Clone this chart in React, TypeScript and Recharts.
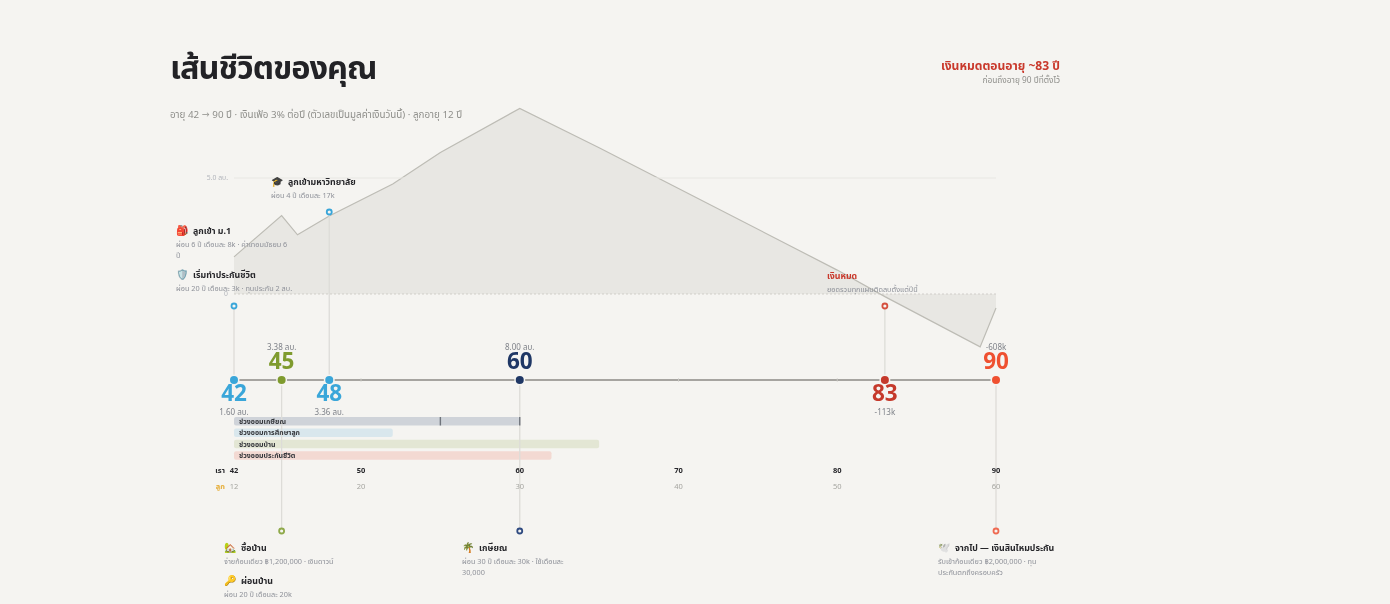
import { Area, ComposedChart, ReferenceArea, ReferenceDot, ReferenceLine, XAxis, YAxis } from "recharts"

// net worth in million baht, by age
const ages = [42, 45, 46, 48, 52, 55, 60, 65, 70, 80, 83, 89, 90]
const wealth = [1.6, 3.38, 2.55, 3.36, 4.74, 6.1, 8.0, 6.3, 4.55, 1.03, -0.113, -2.28, -0.608]

const moneyTicks = [0, 5]
const selfTicks = [42, 50, 60, 70, 80, 90]
const childOffset = 30
const minorTicks = [50, 70, 80]

const milestoneAges = [42, 45, 48, 60, 83, 90]
const milestoneColors = ["#3aa6d9", "#7f9b2e", "#3aa6d9", "#1f3765", "#c5392b", "#ef5030"]
const milestoneNotes = ["1.60 ลบ.", "3.38 ลบ.", "3.36 ลบ.", "8.00 ลบ.", "-113k", "-608k"]
const milestoneAbove = [false, true, false, true, false, true]
const ringColors = ["#3aa6d9", "#8fa94a", "#3aa6d9", "#2f4a80", "#d5503f", "#ef6a52"]
const stemEnds = [306, 531, 212, 531, 306, 531]

const bandNames = ["ช่วงออมเกษียณ", "ช่วงออมการศึกษาลูก", "ช่วงออมบ้าน", "ช่วงออมประกันชีวิต"]
const bandEnds = [60, 52, 65, 62]
const bandColors = ["#cfd3d9", "#d9e7ed", "#e3e6d4", "#f3d9d2"]
const bandMarks = [55, 60]

const chartData = ages.map((age, i) => ({ age, wealth: wealth[i] }))

const W = 1390
const H = 604
const FONT = "'Noto Sans Thai', 'IBM Plex Sans Thai', 'Noto Sans', sans-serif"
const BG = "#f5f4f1"
const INK = "#26262a"
const MUTED = "#8e9199"
const TRACK_Y = 380

function T({ x, y, size, color = MUTED, weight = 400, anchor = "start", spacing, children }: any) {
  return (
    <text x={x} y={y} fontSize={size} fill={color} fontWeight={weight} textAnchor={anchor} letterSpacing={spacing} fontFamily={FONT}>
      {children}
    </text>
  )
}

function Note({ x, y, icon, title, lines, titleColor = INK }: any) {
  return (
    <g>
      {icon && <T x={x} y={y + 3.5} size={10} color={INK}>{icon}</T>}
      <T x={icon ? x + 17 : x} y={y + 3.5} size={8.8} weight={700} color={titleColor}>{title}</T>
      {lines.map((line: string, i: number) => (
        <T key={i} x={x} y={y + 17 + i * 11} size={7.3}>{line}</T>
      ))}
    </g>
  )
}

// draws a text label at a scaled age / track position
const atPoint = (label: string, size: number, color: string, weight = 400) => (props: any) => (
  <T x={props.cx} y={props.cy} size={size} color={color} weight={weight} anchor="middle">{label}</T>
)

export default function App() {
  return (
    <div style={{ position: "absolute", left: 0, top: 0, width: W, height: H, background: BG, overflow: "hidden", filter: "blur(0.4px)" }}>
      <ComposedChart width={W} height={H} data={chartData} margin={{ top: 0, right: 394, bottom: 0, left: 0 }}>
        <XAxis dataKey="age" type="number" domain={[42, 90]} hide />
        <YAxis
          yAxisId="money"
          width={234}
          domain={[-13.362, 12.672]}
          ticks={moneyTicks}
          tickFormatter={(v: number) => (v === 0 ? "0" : `${v.toFixed(1)} ลบ.`)}
          tick={{ fontSize: 6.8, fill: "#b3b6bc", fontFamily: FONT }}
          tickLine={false}
          axisLine={false}
          tickMargin={0}
          allowDataOverflow
        />
        <YAxis yAxisId="track" domain={[0, H]} reversed hide allowDataOverflow />

        <ReferenceLine yAxisId="money" y={5} stroke="#e8e7e3" strokeWidth={1} />
        <Area
          yAxisId="money"
          dataKey="wealth"
          type="linear"
          stroke="#bdbcb5"
          strokeWidth={1.2}
          fill="#e8e7e3"
          fillOpacity={1}
          dot={false}
          activeDot={false}
          isAnimationActive={false}
        />
        <ReferenceLine yAxisId="money" y={0} stroke="#c9c8c3" strokeWidth={0.8} strokeDasharray="2 2" />

        {bandNames.map((name, i) => (
          <ReferenceArea
            key={name}
            yAxisId="track"
            x1={42}
            x2={bandEnds[i]}
            y1={417 + i * 11.4}
            y2={425.5 + i * 11.4}
            fill={bandColors[i]}
            fillOpacity={1}
            stroke="none"
            radius={2}
          />
        ))}

        {milestoneAges.map((age, i) => (
          <ReferenceLine key={age} yAxisId="track" segment={[{ x: age, y: stemEnds[i] }, { x: age, y: TRACK_Y }]} stroke="#dddcd8" strokeWidth={1.3} />
        ))}
        {bandMarks.map((age) => (
          <ReferenceLine key={age} yAxisId="track" segment={[{ x: age, y: 417 }, { x: age, y: 425.5 }]} stroke="#6f747c" strokeWidth={1.4} />
        ))}
        <ReferenceLine yAxisId="track" y={TRACK_Y} stroke="#8b8a85" strokeWidth={1.4} />
        {minorTicks.map((age) => (
          <ReferenceLine key={age} yAxisId="track" segment={[{ x: age, y: TRACK_Y - 1.5 }, { x: age, y: TRACK_Y + 1.5 }]} stroke="#c6c5c0" strokeWidth={1} />
        ))}

        {milestoneAges.map((age, i) => (
          <ReferenceDot key={`ring-${age}`} yAxisId="track" x={age} y={stemEnds[i]} r={2.5} fill={BG} stroke={ringColors[i]} strokeWidth={1.8} ifOverflow="visible" />
        ))}
        {milestoneAges.map((age, i) => (
          <ReferenceDot key={`dot-${age}`} yAxisId="track" x={age} y={TRACK_Y} r={4} fill={milestoneColors[i]} stroke={BG} strokeWidth={3} paintOrder="stroke" ifOverflow="visible" />
        ))}
        {milestoneAges.map((age, i) => (
          <ReferenceDot
            key={`age-${age}`}
            yAxisId="track"
            x={age}
            y={milestoneAbove[i] ? 368.5 : 400.5}
            ifOverflow="visible"
            shape={atPoint(String(age), 22.5, milestoneColors[i], 700)}
          />
        ))}
        {milestoneAges.map((age, i) => (
          <ReferenceDot
            key={`note-${age}`}
            yAxisId="track"
            x={age}
            y={milestoneAbove[i] ? 350 : 415}
            ifOverflow="visible"
            shape={atPoint(milestoneNotes[i], 8, "#7f8289")}
          />
        ))}
        {selfTicks.map((age) => (
          <ReferenceDot key={`self-${age}`} yAxisId="track" x={age} y={473} ifOverflow="visible" shape={atPoint(String(age), 7.5, INK, 700)} />
        ))}
        {selfTicks.map((age) => (
          <ReferenceDot key={`child-${age}`} yAxisId="track" x={age} y={489} ifOverflow="visible" shape={atPoint(String(age - childOffset), 7.5, "#a5a5a0")} />
        ))}
      </ComposedChart>

      <svg width={W} height={H} style={{ position: "absolute", left: 0, top: 0, pointerEvents: "none" }}>
        <T x={170} y={79} size={32.5} weight={700} color="#222226" spacing={-1}>เส้นชีวิตของคุณ</T>
        <T x={170} y={118} size={9.8} color="#8f8f8b">อายุ 42 → 90 ปี · เงินเฟ้อ 3% ต่อปี (ตัวเลขเป็นมูลค่าเงินวันนี้) · ลูกอายุ 12 ปี</T>
        <T x={1060} y={70} size={12.1} weight={700} color="#c9392c" anchor="end">เงินหมดตอนอายุ ~83 ปี</T>
        <T x={1060} y={83} size={8.3} color="#8f8f8b" anchor="end">ก่อนถึงอายุ 90 ปีที่ตั้งไว้</T>

        <Note x={271} y={181} icon="🎓" title="ลูกเข้ามหาวิทยาลัย" lines={["ผ่อน 4 ปี เดือนละ 17k"]} />
        <Note x={176} y={230} icon="🎒" title="ลูกเข้า ม.1" lines={["ผ่อน 6 ปี เดือนละ 8k · ค่าเทอมมัธยม 6", "ปี"]} />
        <Note x={176} y={274} icon="🛡️" title="เริ่มทำประกันชีวิต" lines={["ผ่อน 20 ปี เดือนละ 3k · ทุนประกัน 2 ลบ."]} />
        <Note x={827} y={275} title="เงินหมด" titleColor="#c9392c" lines={["ยอดรวมทุกแผนติดลบตั้งแต่ปีนี้"]} />
        <Note x={224} y={547} icon="🏡" title="ซื้อบ้าน" lines={["จ่ายก้อนเดียว ฿1,200,000 · เงินดาวน์"]} />
        <Note x={224} y={580} icon="🔑" title="ผ่อนบ้าน" lines={["ผ่อน 20 ปี เดือนละ 20k"]} />
        <Note x={462} y={547} icon="🌴" title="เกษียณ" lines={["ผ่อน 30 ปี เดือนละ 30k · ใช้เดือนละ", "30,000"]} />
        <Note x={938} y={547} icon="🕊️" title="จากไป — เงินสินไหมประกัน" lines={["รับเข้าก้อนเดียว ฿2,000,000 · ทุน", "ประกันตกถึงครอบครัว"]} />

        {bandNames.map((name, i) => (
          <T key={name} x={239} y={424 + i * 11.4} size={7} weight={700} color="#34363b">{name}</T>
        ))}
        <T x={225} y={473} size={7.5} weight={700} color={INK} anchor="end">เรา</T>
        <T x={225} y={489} size={7.5} weight={700} color="#e5ac35" anchor="end">ลูก</T>
      </svg>
    </div>
  )
}
